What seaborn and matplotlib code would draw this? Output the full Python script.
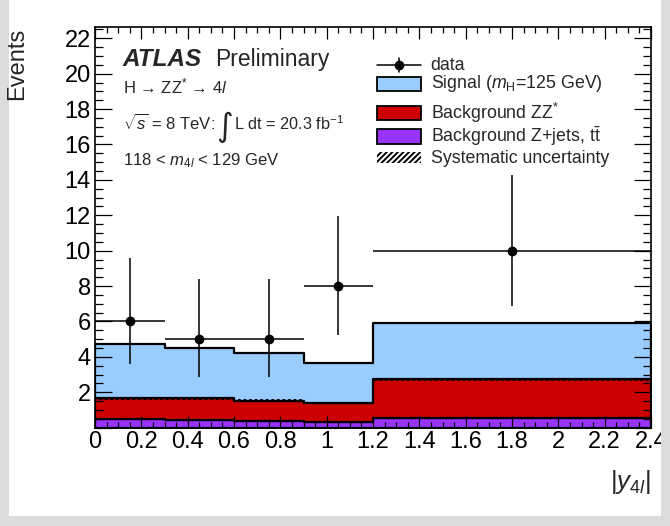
import numpy as np
import pandas as pd
import matplotlib
matplotlib.use("Agg")
import matplotlib.pyplot as plt
from matplotlib.patches import Rectangle
from matplotlib.lines import Line2D
from matplotlib.ticker import MultipleLocator, FuncFormatter
import seaborn as sns

# Bin edges in |y_4l| and expected yields per bin
edges = [0.0, 0.3, 0.6, 0.9, 1.2, 2.4]
signal = [3.05, 2.87, 2.67, 2.26, 3.20]
bkg_zz = [1.19, 1.22, 1.13, 1.08, 2.16]
bkg_zjets = [0.47, 0.43, 0.40, 0.33, 0.57]
syst_zz = [0.07, 0.07, 0.07, 0.07, 0.08]

# Observed events with asymmetric Poisson intervals
data_y = [6, 5, 5, 8, 10]
data_lo = [3.62, 2.84, 2.84, 5.22, 6.88]
data_hi = [9.58, 8.38, 8.38, 11.96, 14.28]

labels = ["Signal", "ZZ", "Zjets"]
colors = {"Signal": "#99ccff", "ZZ": "#cc0000", "Zjets": "#9933ff"}

sns.set_theme(style="ticks")
plt.rcParams["font.family"] = ["Liberation Sans", "DejaVu Sans"]
plt.rcParams["mathtext.fontset"] = "custom"
plt.rcParams["mathtext.rm"] = "Liberation Sans"
plt.rcParams["mathtext.it"] = "Liberation Sans:italic"
plt.rcParams["mathtext.bf"] = "Liberation Sans:bold"
plt.rcParams["hatch.linewidth"] = 1.4

W, H = 670, 526
fig = plt.figure(figsize=(W / 100, H / 100), dpi=100)
fig.patch.set_facecolor("white")

# light grey frame strips
for (x0, y0, w, h) in [(0, 0, 9, H), (661, 0, 9, H), (0, 516, W, 10)]:
    fig.patches.append(Rectangle((x0 / W, 1 - (y0 + h) / H), w / W, h / H,
                                 transform=fig.transFigure, facecolor="#dcdcdc",
                                 edgecolor="none", zorder=0))

ax_l, ax_r, ax_t, ax_b = 95, 651, 27.3, 427.7
ax = fig.add_axes([ax_l / W, 1 - ax_b / H, (ax_r - ax_l) / W, (ax_b - ax_t) / H])
ax.set_facecolor("white")

centers = [(edges[i] + edges[i + 1]) / 2 for i in range(len(edges) - 1)]
df = pd.DataFrame({
    "x": centers * 3,
    "w": signal + bkg_zz + bkg_zjets,
    "comp": [c for c in labels for _ in centers],
})

sns.histplot(data=df, x="x", weights="w", hue="comp", hue_order=labels,
             bins=edges, multiple="stack", element="step", fill=True,
             palette=colors, alpha=1, edgecolor="black", linewidth=1.6,
             legend=False, ax=ax)

# systematic band on the ZZ* + Z+jets stack
bkg_top = np.array(bkg_zz) + np.array(bkg_zjets)
band_lo = np.append(bkg_top - np.array(syst_zz), bkg_top[-1] - syst_zz[-1])
band_hi = np.append(bkg_top + np.array(syst_zz), bkg_top[-1] + syst_zz[-1])
ax.fill_between(edges, band_lo, band_hi, step="post", facecolor="none",
                edgecolor="black", hatch="//////", linewidth=0, zorder=1.5)

# data points
xerr = [[c - edges[i] for i, c in enumerate(centers)],
        [edges[i + 1] - c for i, c in enumerate(centers)]]
yerr = [np.array(data_y) - np.array(data_lo), np.array(data_hi) - np.array(data_y)]
ax.errorbar(centers, data_y, xerr=xerr, yerr=yerr, fmt="o", color="black",
            markersize=6, elinewidth=1.1, capsize=0, zorder=4)

ax.set_xlim(0, 2.4)
ax.set_ylim(0, 22.62)
ax.set_xlabel("")
ax.set_ylabel("")
ax.set_axisbelow(False)

ax.xaxis.set_major_locator(MultipleLocator(0.2))
ax.xaxis.set_minor_locator(MultipleLocator(0.05))
ax.yaxis.set_major_locator(MultipleLocator(2))
ax.yaxis.set_minor_locator(MultipleLocator(0.5))
ax.xaxis.set_major_formatter(FuncFormatter(lambda v, p: f"{v:.1f}".rstrip("0").rstrip(".") if abs(v) > 1e-9 else "0"))
ax.yaxis.set_major_formatter(FuncFormatter(lambda v, p: "" if abs(v) < 1e-9 else f"{v:g}"))

ax.tick_params(which="both", direction="in", top=True, right=True,
               bottom=True, left=True,
               color="black", width=0.9, labelsize=17, labelcolor="black")
ax.tick_params(axis="x", which="major", length=8.6, pad=2.5)
ax.tick_params(axis="x", which="minor", length=4.6)
ax.tick_params(axis="y", which="major", length=12, pad=3)
ax.tick_params(axis="y", which="minor", length=6)
for s in ax.spines.values():
    s.set_visible(True)
    s.set_color("black")
    s.set_linewidth(1.2)

# axis titles
fig.text(17 / W, 1 - 28 / H, "Events", rotation=90, ha="center", va="top", fontsize=17)
fig.text(651 / W, 1 - 489 / H, r"$|y_{4l}|$", ha="right", va="baseline", fontsize=18.5)

# ATLAS label and analysis info
fig.text(123 / W, 1 - 65.7 / H, "ATLAS", fontsize=17.5, fontweight="bold",
         fontstyle="italic", va="baseline")
fig.text(215 / W, 1 - 65.7 / H, "Preliminary", fontsize=16.5, va="baseline")
fig.text(123 / W, 1 - 93.3 / H, r"H → ZZ$^{*}$ → 4$l$", fontsize=12, va="baseline")
fig.text(123 / W, 1 - 130 / H, r"$\sqrt{s}$ = 8 TeV:", fontsize=12, va="baseline")
fig.text(224 / W, 1 - 127 / H, "∫", fontsize=23, va="center", ha="center",
         family=["DejaVu Sans"])
fig.text(234 / W, 1 - 130 / H, r"L dt = 20.3 fb$^{-1}$", fontsize=11.7, va="baseline")
fig.text(123 / W, 1 - 165.7 / H, r"118 < $m_{4l}$ < 129 GeV", fontsize=12, va="baseline")

# legend
def fx(px):
    return px / W

def fy(py):
    return 1 - py / H

bx0, bx1, tx = 377.3, 420.7, 430.7
fs_leg = 12.8
fig.lines.append(Line2D([fx(bx0), fx(bx1)], [fy(65), fy(65)], color="black",
                        linewidth=1.1, transform=fig.transFigure))
fig.lines.append(Line2D([fx(399), fx(399)], [fy(58), fy(72)], color="black",
                        linewidth=1.1, transform=fig.transFigure))
fig.lines.append(Line2D([fx(399)], [fy(65)], marker="o", markersize=6,
                        color="black", transform=fig.transFigure))
fig.text(fx(tx), fy(65), "data", fontsize=fs_leg, va="center")

rows = [(83.8, colors["Signal"], r"Signal ($m_{\mathrm{H}}$=125 GeV)"),
        (113.3, colors["ZZ"], r"Background ZZ$^{*}$"),
        (136.5, colors["Zjets"], r"Background Z+jets, t$\bar{\mathrm{t}}$")]
for cy, col, txt in rows:
    fig.patches.append(Rectangle((fx(bx0), fy(cy + 7)), fx(bx1) - fx(bx0),
                                 (14.3) / H, transform=fig.transFigure,
                                 facecolor=col, edgecolor="black", linewidth=1.3))
    fig.text(fx(tx), fy(cy), txt, fontsize=fs_leg, va="center")

fig.patches.append(Rectangle((fx(bx0), fy(163)), fx(bx1) - fx(bx0), 11 / H,
                             transform=fig.transFigure, facecolor="none",
                             edgecolor="black", linewidth=0, hatch="//////"))
fig.text(fx(tx), fy(158.5), "Systematic uncertainty", fontsize=fs_leg, va="center")

fig.savefig("out.png", dpi=100)
